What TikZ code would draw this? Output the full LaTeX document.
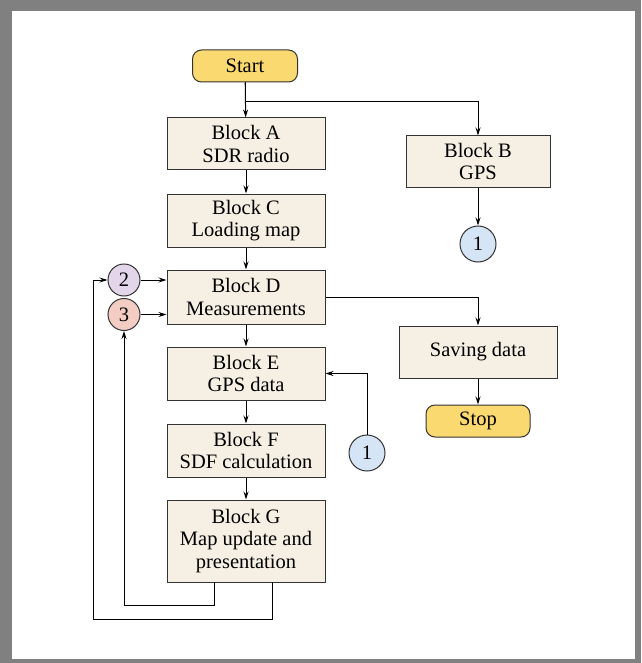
\documentclass[tikz,border=0pt]{standalone}
\usepackage{fontspec}
\setmainfont{Liberation Serif}
\usepackage{xcolor}
\usetikzlibrary{calc,arrows.meta}

\definecolor{boxfill}{HTML}{F6F0E4}
\definecolor{termfill}{HTML}{FAD970}
\definecolor{bluefill}{HTML}{D5E5F5}
\definecolor{purplefill}{HTML}{E3D6EB}
\definecolor{pinkfill}{HTML}{F3CDC3}
\definecolor{edge}{HTML}{333333}
\definecolor{framegray}{HTML}{808080}

\begin{document}
\begin{tikzpicture}[x=1pt,y=-1pt,
  every node/.style={font=\fontsize{20.5}{22.5}\selectfont},
  blockbox/.style={draw=edge,line width=1pt,fill=boxfill,align=center,inner sep=0pt,minimum width=158pt,minimum height=53pt},
  termbox/.style={draw=edge,line width=1pt,fill=termfill,rounded corners=9pt,inner sep=0pt,minimum height=32pt},
  conn/.style={draw=edge,line width=1pt,circle,inner sep=0pt,minimum size=#1},
  arr/.style={line width=1pt,-{Stealth[length=8pt,width=5pt]}}]
% frame
\fill[framegray] (0,0) rectangle (641,663);
\fill[white] (12,11) rectangle (635,659);
% main column
\node[termbox,minimum width=105pt] (start) at (245,66) {Start};
\node[blockbox,minimum height=52pt] (blkA) at (246,144) {Block A\\SDR radio};
\node[blockbox] (blkC) at (246,220.5) {Block C\\Loading map};
\node[blockbox,minimum height=54pt] (blkD) at (246,297) {Block D\\Measurements};
\node[blockbox] (blkE) at (246,373.5) {Block E\\GPS data};
\node[blockbox] (blkF) at (246,450.5) {Block F\\SDF calculation};
\node[blockbox,minimum height=82pt] (blkG) at (246,541) {Block G\\Map update and\\presentation};
% right column
\node[blockbox,minimum width=144pt,minimum height=51pt] (blkB) at (478,161.5) {Block B\\GPS};
\node[conn=36pt,fill=bluefill] (con1a) at (478,244) {1};
\node[blockbox,minimum height=52pt] (save) at (478,352) {Saving data};
\node[termbox,minimum width=104pt] (stop) at (478,421) {Stop};
\node[conn=36pt,fill=bluefill] (con1b) at (367,453) {1};
% loop connectors
\node[conn=32pt,fill=purplefill] (con2) at (124,280) {2};
\node[conn=32pt,fill=pinkfill] (con3) at (124,314.5) {3};
\coordinate (br) at (245,102);
\coordinate (gL) at (214,582);
\coordinate (gR) at (272,582);
\coordinate (loopL) at (124,605);
\coordinate (loopR) at (93,619);
% arrows
\draw[arr] (start) -- (blkA);
\draw[line width=1pt] (start.south) -- (br);
\draw[arr] (br) -| (blkB.north);
\draw[arr] (blkB) -- (con1a);
\draw[arr] (blkA) -- (blkC);
\draw[arr] (blkC) -- (blkD);
\draw[arr] (blkD) -- (blkE);
\draw[arr] (blkE) -- (blkF);
\draw[arr] (blkF) -- (blkG);
\draw[arr] (blkD.east) -| (save.north);
\draw[arr] (save) -- (stop);
\draw[arr] (con1b.north) |- (blkE.east);
\draw[arr] (con2.east) -- (con2.east -| blkD.west);
\draw[arr] (con3.east) -- (con3.east -| blkD.west);
\draw[arr] (gL) |- (loopL) -- (con3.south);
\draw[arr] (gR) |- (loopR) |- (con2.west);
\end{tikzpicture}
\end{document}
